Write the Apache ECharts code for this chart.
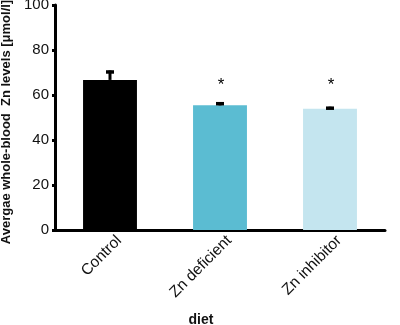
<!DOCTYPE html>
<html>
<head>
<meta charset="utf-8">
<script src="https://cdn.jsdelivr.net/npm/echarts@6/dist/echarts.min.js"></script>
<style>
  html, body { margin: 0; padding: 0; background: #fff; }
  #chart { width: 400px; height: 325px; }
</style>
</head>
<body>
<div id="chart"></div>
<script>
var categories = ["Control", "Zn deficient", "Zn inhibitor"];
var means = [66.7, 55.4, 53.9];
var errors = [4.2, 1.4, 0.9];
var marks = ["", "*", "*"];
var colors = ["#000000", "#5bbcd2", "#c4e5ef"];
var yTicks = [0, 20, 40, 60, 80, 100];

var chart = echarts.init(document.getElementById("chart"));

var option = {
  animation: false,
  grid: { left: 55, right: 15, top: 5, bottom: 95, outerBoundsMode: "none", containLabel: false },
  xAxis: {
    type: "category",
    data: categories,
    name: "diet",
    nameLocation: "middle",
    nameGap: 83,
    nameTextStyle: {
      fontFamily: "Liberation Sans",
      fontWeight: "bold",
      fontSize: 14,
      color: "#111",
      padding: [0, 38, 0, 0]
    },
    axisLine: { lineStyle: { color: "#000", width: 3 } },
    axisTick: { length: 3, lineStyle: { color: "#000", width: 3 } },
    axisLabel: {
      rotate: 45,
      margin: -1,
      verticalAlign: "top",
      fontFamily: "Liberation Sans",
      fontSize: 15.5,
      color: "#111",
      padding: [5, 0, 0, 0]
    }
  },
  yAxis: {
    type: "value",
    min: yTicks[0],
    max: yTicks[yTicks.length - 1],
    interval: 20,
    name: "Avergae whole-blood  Zn levels [\u03bcmol/l]",
    nameLocation: "middle",
    nameGap: 41,
    nameTextStyle: {
      fontFamily: "Liberation Sans",
      fontWeight: "bold",
      fontSize: 13,
      color: "#111",
      padding: [0, 9, 0, 0]
    },
    axisLine: { show: true, lineStyle: { color: "#000", width: 3 } },
    axisTick: { show: true, length: 3, lineStyle: { color: "#000", width: 3 } },
    splitLine: { show: false },
    axisLabel: {
      margin: 6,
      fontFamily: "Liberation Sans",
      fontSize: 15,
      color: "#111"
    }
  },
  series: [
    {
      type: "bar",
      barWidth: "49%",
      data: means.map(function (v, i) {
        return { value: v, itemStyle: { color: colors[i] } };
      })
    },
    {
      type: "custom",
      data: means.map(function (v, i) { return [i, v, errors[i]]; }),
      z: 5,
      renderItem: function (params, api) {
        var i = api.value(0);
        var base = api.coord([i, api.value(1)]);
        var top = api.coord([i, api.value(1) + api.value(2)]);
        var star = api.coord([i, 64.5]);
        var children = [
          {
            type: "line",
            shape: { x1: base[0], y1: base[1], x2: top[0], y2: top[1] },
            style: { stroke: "#000", lineWidth: 3 }
          },
          {
            type: "line",
            shape: { x1: top[0] - 4, y1: top[1] + 1.5, x2: top[0] + 4, y2: top[1] + 1.5 },
            style: { stroke: "#000", lineWidth: 3.5 }
          }
        ];
        if (marks[i]) {
          children.push({
            type: "text",
            x: star[0] + 1,
            y: star[1],
            style: {
              text: marks[i],
              fontFamily: "Liberation Sans",
              fontSize: 17,
              fill: "#000",
              align: "center",
              verticalAlign: "middle"
            }
          });
        }
        return { type: "group", children: children };
      }
    }
  ]
};

chart.setOption(option);
</script>
</body>
</html>
